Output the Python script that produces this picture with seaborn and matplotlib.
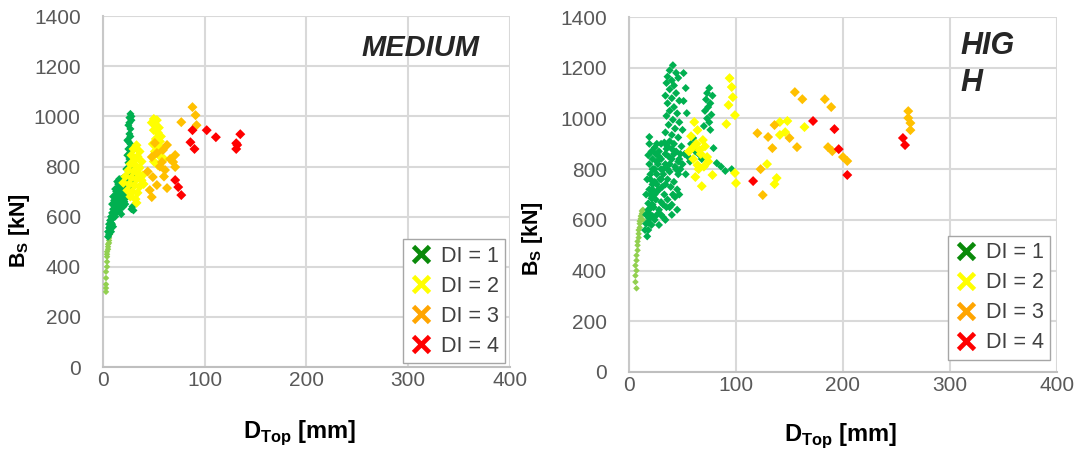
import numpy as np
import pandas as pd
import seaborn as sns
import matplotlib.pyplot as plt
from matplotlib.lines import Line2D

# ---- MEDIUM : D_Top [mm] / B_S [kN] per damage index group
med_d0_x = [3, 3, 3, 3, 3, 4, 4, 4, 4, 4, 5, 5, 5, 6, 6, 6, 6, 7, 7, 7, 8, 8]
med_d0_y = [300, 315, 330, 355, 380, 400, 420, 440, 450, 460, 470, 480, 490, 495, 505, 515, 525, 530, 540, 545, 550, 555]

med_d1_x = [27, 26, 28, 25, 27, 26, 24, 27, 25, 28, 24, 26, 25, 29, 23, 27, 25, 30, 28,
            5, 5, 6, 6, 7, 7, 8, 8, 9, 9, 10, 10, 11, 11, 11, 12, 12, 12, 13, 13, 13, 14, 14, 14,
            15, 15, 15, 16, 16, 16, 17, 17, 17, 18, 18, 18, 19, 19, 19, 20, 20, 20, 20, 21, 21,
            22, 22, 22, 23, 23, 24, 24, 25, 26, 28, 29, 30, 8, 10, 12, 9, 14, 16, 18,
            10, 12, 14, 16, 18, 20, 22, 24, 13, 15, 17, 19, 21, 23, 11, 9, 7, 6, 15, 17, 19, 21, 23,
            25, 26, 24, 26, 25, 27, 26, 28]
med_d1_y = [1010, 995, 985, 965, 950, 930, 905, 890, 870, 860, 845, 830, 815, 800, 790, 780, 770, 760, 745,
            520, 540, 555, 570, 560, 585, 575, 600, 590, 615, 605, 630, 620, 645, 665, 640, 660, 685, 650, 675, 700, 665, 690, 715,
            680, 705, 730, 650, 695, 720, 670, 710, 740, 690, 725, 750, 660, 705, 735, 640, 680, 715, 755, 700, 740,
            650, 690, 725, 710, 745, 680, 730, 700, 720, 630, 640, 625, 540, 560, 600, 650, 620, 620, 610,
            680, 710, 740, 750, 700, 700, 760, 760, 620, 640, 630, 690, 660, 680, 600, 570, 540, 530, 660, 690, 720, 720, 730,
            740, 760, 790, 850, 900, 920, 975, 1000]

med_d2_x = [33, 30, 36, 28, 34, 31, 38, 27, 33, 36, 25, 30, 35, 22, 28, 33, 38, 20, 26, 31, 36, 24, 29, 34, 27, 32, 33, 39, 40,
            50, 53, 48, 52, 55, 50, 54, 57, 52, 56, 49, 54, 58, 51, 55, 60, 50, 54]
med_d2_y = [885, 870, 860, 845, 840, 825, 820, 810, 800, 795, 785, 780, 770, 760, 755, 750, 745, 735, 730, 725, 720, 705, 700, 695, 680, 670, 655, 765, 730,
            990, 985, 975, 965, 955, 945, 935, 920, 910, 900, 890, 880, 870, 860, 845, 830, 820, 805]

med_d3_x = [77, 88, 91, 92, 48, 53, 59, 63, 58, 61, 51, 71, 71, 69, 49, 53, 63, 46, 48, 66, 56, 44, 60]
med_d3_y = [977, 1037, 1005, 965, 838, 854, 866, 886, 818, 786, 894, 846, 798, 818, 758, 726, 714, 706, 678, 830, 800, 780, 760]

med_d4_x = [88, 102, 86, 90, 71, 74, 77, 111, 135, 131, 132, 131]
med_d4_y = [945, 945, 897, 870, 746, 718, 686, 917, 929, 893, 886, 870]

# ---- HIGH
high_d0_x = [7, 6, 6, 7, 6, 7, 7, 8, 8, 8, 9, 9, 9, 10, 10, 10, 11, 11, 12, 12, 13, 13]
high_d0_y = [330, 355, 380, 400, 420, 440, 460, 480, 500, 515, 530, 545, 560, 570, 585, 595, 605, 615, 625, 635, 640, 600]

high_d1_x = [41, 38, 44, 36, 40, 51, 46, 35, 42, 53, 38, 44, 34, 40, 47, 51, 36, 42, 38, 45, 54, 35, 41, 47, 37, 43, 50, 34, 40, 46, 38,
             75, 73, 78, 72, 76, 74, 71, 77, 73, 75, 70, 76,
             17, 18, 16, 19, 17, 20, 18, 21, 16, 19, 22, 17, 20, 23, 19, 22, 18, 21, 24, 19, 19, 25, 27, 26, 24, 27, 25, 23, 22, 21,
             28, 30, 32, 29, 31, 33, 30, 28, 32, 35, 37, 34, 38, 36, 39, 41, 35, 40, 44, 47, 43, 46, 42, 45, 49, 52, 50, 48, 55, 53,
             58, 60, 62, 57, 65, 68, 79, 82, 90, 96, 86, 30, 26, 33,
             20, 22, 24, 26, 28, 30, 32, 34, 36, 38, 40, 42, 44, 46, 48, 24, 26, 28, 30, 34, 36, 40, 42, 20, 22,
             18, 20, 22, 24, 26, 28, 30, 32, 34, 36, 38, 40, 43, 45, 47, 16, 15, 18]
high_d1_y = [1210, 1190, 1180, 1165, 1150, 1179, 1160, 1140, 1130, 1120, 1115, 1100, 1090, 1080, 1070, 1069, 1060, 1045, 1030, 1020, 1021, 1010, 995, 985, 975, 960, 955, 945, 935, 925, 910,
             1120, 1100, 1090, 1075, 1060, 1045, 1030, 1015, 1000, 985, 970, 955,
             535, 560, 585, 605, 625, 645, 665, 685, 700, 720, 740, 760, 780, 800, 820, 840, 855, 870, 885, 900, 927, 860, 820, 780, 750, 715, 680, 650, 615, 580,
             870, 840, 800, 760, 730, 700, 670, 640, 610, 880, 850, 820, 790, 760, 730, 700, 650, 620, 870, 840, 810, 780, 750, 720, 890, 860, 820, 800, 850, 780,
             900, 923, 870, 830, 860, 840, 883, 824, 793, 800, 810, 900, 900, 905,
             700, 720, 700, 740, 720, 760, 780, 740, 800, 820, 840, 860, 800, 830, 860, 800, 830, 850, 800, 860, 890, 880, 900, 760, 800,
             640, 620, 660, 600, 620, 580, 620, 660, 600, 680, 650, 660, 690, 640, 700, 620, 560, 590]

high_d2_x = [61, 64, 60, 66, 73, 64, 62, 68, 78, 69, 94, 96, 97, 93, 99, 91, 99, 100,
             58, 63, 67, 71, 60, 65, 70, 56, 74, 141, 148, 146, 141, 164, 129, 138, 136]
high_d2_y = [986, 954, 887, 875, 848, 816, 769, 733, 777, 915, 1159, 1124, 1084, 1053, 1013, 978, 785, 745,
             930, 900, 860, 890, 840, 800, 810, 870, 830, 986, 990, 946, 935, 966, 820, 765, 741]

high_d3_x = [155, 162, 183, 189, 120, 130, 136, 150, 134, 157, 186, 190, 200, 204, 123, 125, 261, 261, 263, 263]
high_d3_y = [1104, 1076, 1076, 1045, 942, 927, 974, 923, 883, 887, 887, 871, 848, 832, 800, 698, 1029, 1002, 982, 954]

high_d4_x = [172, 192, 196, 204, 116, 256, 258]
high_d4_y = [990, 958, 879, 777, 753, 923, 895]

groups = ['DI = 0', 'DI = 1', 'DI = 2', 'DI = 3', 'DI = 4']
point_colors = {'DI = 0': '#92D050', 'DI = 1': '#00B050', 'DI = 2': '#FFFF00',
                'DI = 3': '#FFC000', 'DI = 4': '#FF0000'}
point_sizes = {'DI = 0': 11, 'DI = 1': 17, 'DI = 2': 26, 'DI = 3': 26, 'DI = 4': 26}
legend_colors = ['#0A8A0A', '#FFFF00', '#FFA500', '#FF0000']


def build(xs, ys):
    frames = []
    for g, x, y in zip(groups, xs, ys):
        frames.append(pd.DataFrame({'D': x, 'B': y, 'DI': g}))
    return pd.concat(frames, ignore_index=True)


medium = build([med_d0_x, med_d1_x, med_d2_x, med_d3_x, med_d4_x],
               [med_d0_y, med_d1_y, med_d2_y, med_d3_y, med_d4_y])
high = build([high_d0_x, high_d1_x, high_d2_x, high_d3_x, high_d4_x],
             [high_d0_y, high_d1_y, high_d2_y, high_d3_y, high_d4_y])

sns.set_style('whitegrid', {'grid.color': '#D9D9D9', 'axes.edgecolor': '#BFBFBF'})
plt.rcParams['font.family'] = ['Liberation Sans', 'DejaVu Sans']
plt.rcParams['mathtext.fontset'] = 'custom'
plt.rcParams['mathtext.rm'] = 'Liberation Sans:bold'
plt.rcParams['mathtext.bf'] = 'Liberation Sans:bold'

fig = plt.figure(figsize=(10.78, 4.49), dpi=100)
ax1 = fig.add_axes([0.0955, 0.1826, 0.3775, 0.7814])
ax2 = fig.add_axes([0.5835, 0.1715, 0.397, 0.7905])

# label / legend placement per panel (axes coords)
ylab_pos = {ax1: (-0.174, 0.39), ax2: (-0.196, 0.375)}
xlab_pos = {ax1: (0.484, -0.145), ax2: (0.495, -0.14)}
leg_pos = {ax1: (0.988, 0.011), ax2: (0.984, 0.034)}

for ax, df in [(ax1, medium), (ax2, high)]:
    sns.scatterplot(data=df, x='D', y='B', hue='DI', size='DI', palette=point_colors,
                    sizes=point_sizes, marker='D', edgecolor='none', linewidth=0,
                    legend=False, ax=ax, zorder=3)
    ax.set_xlim(0, 400)
    ax.set_ylim(0, 1400)
    ax.set_xticks([0, 100, 200, 300, 400])
    ax.set_yticks(np.arange(0, 1401, 200))
    ax.grid(True, color='#D9D9D9', linewidth=1.5)
    ax.tick_params(length=0, labelsize=15, labelcolor='#595959')
    ax.tick_params(axis='y', pad=16)
    ax.tick_params(axis='x', pad=3)
    for s in ['top', 'right']:
        ax.spines[s].set_visible(False)
    ax.spines['left'].set_color('#C8C8C8')
    ax.spines['bottom'].set_color('#BFBFBF')
    ax.spines['left'].set_linewidth(1.5)
    ax.spines['bottom'].set_linewidth(1.5)
    ax.set_xlabel(r'D$_{\mathbf{Top}}$ [mm]', fontsize=17, fontweight='bold', color='black')
    ax.set_ylabel(r'B$_{\mathbf{S}}$ [kN]', fontsize=15.5, fontweight='bold', color='black')
    ax.xaxis.set_label_coords(*xlab_pos[ax])
    ax.yaxis.set_label_coords(*ylab_pos[ax])
    handles = [Line2D([], [], linestyle='none', marker='x', markersize=12, markeredgewidth=3.4,
                      color=c, label=f'DI = {i + 1}') for i, c in enumerate(legend_colors)]
    leg = ax.legend(handles=handles, loc='lower right', bbox_to_anchor=leg_pos[ax], fontsize=15.5,
                    frameon=True, fancybox=False, edgecolor='#A6A6A6', framealpha=1,
                    handletextpad=0.35, handlelength=1.1, borderpad=0.3, labelspacing=0.42,
                    borderaxespad=0)
    leg.get_frame().set_linewidth(1.0)
    for t in leg.get_texts():
        t.set_color('#404040')

ax1.text(0.636, 0.909, 'MEDIUM', transform=ax1.transAxes, fontsize=21, fontweight='bold',
         fontstyle='italic', va='center', ha='left')
ax2.text(0.775, 0.962, 'HIG\nH', transform=ax2.transAxes, fontsize=22, fontweight='bold',
         fontstyle='italic', va='top', ha='left', linespacing=1.34)

fig.savefig('out.png', dpi=100)
